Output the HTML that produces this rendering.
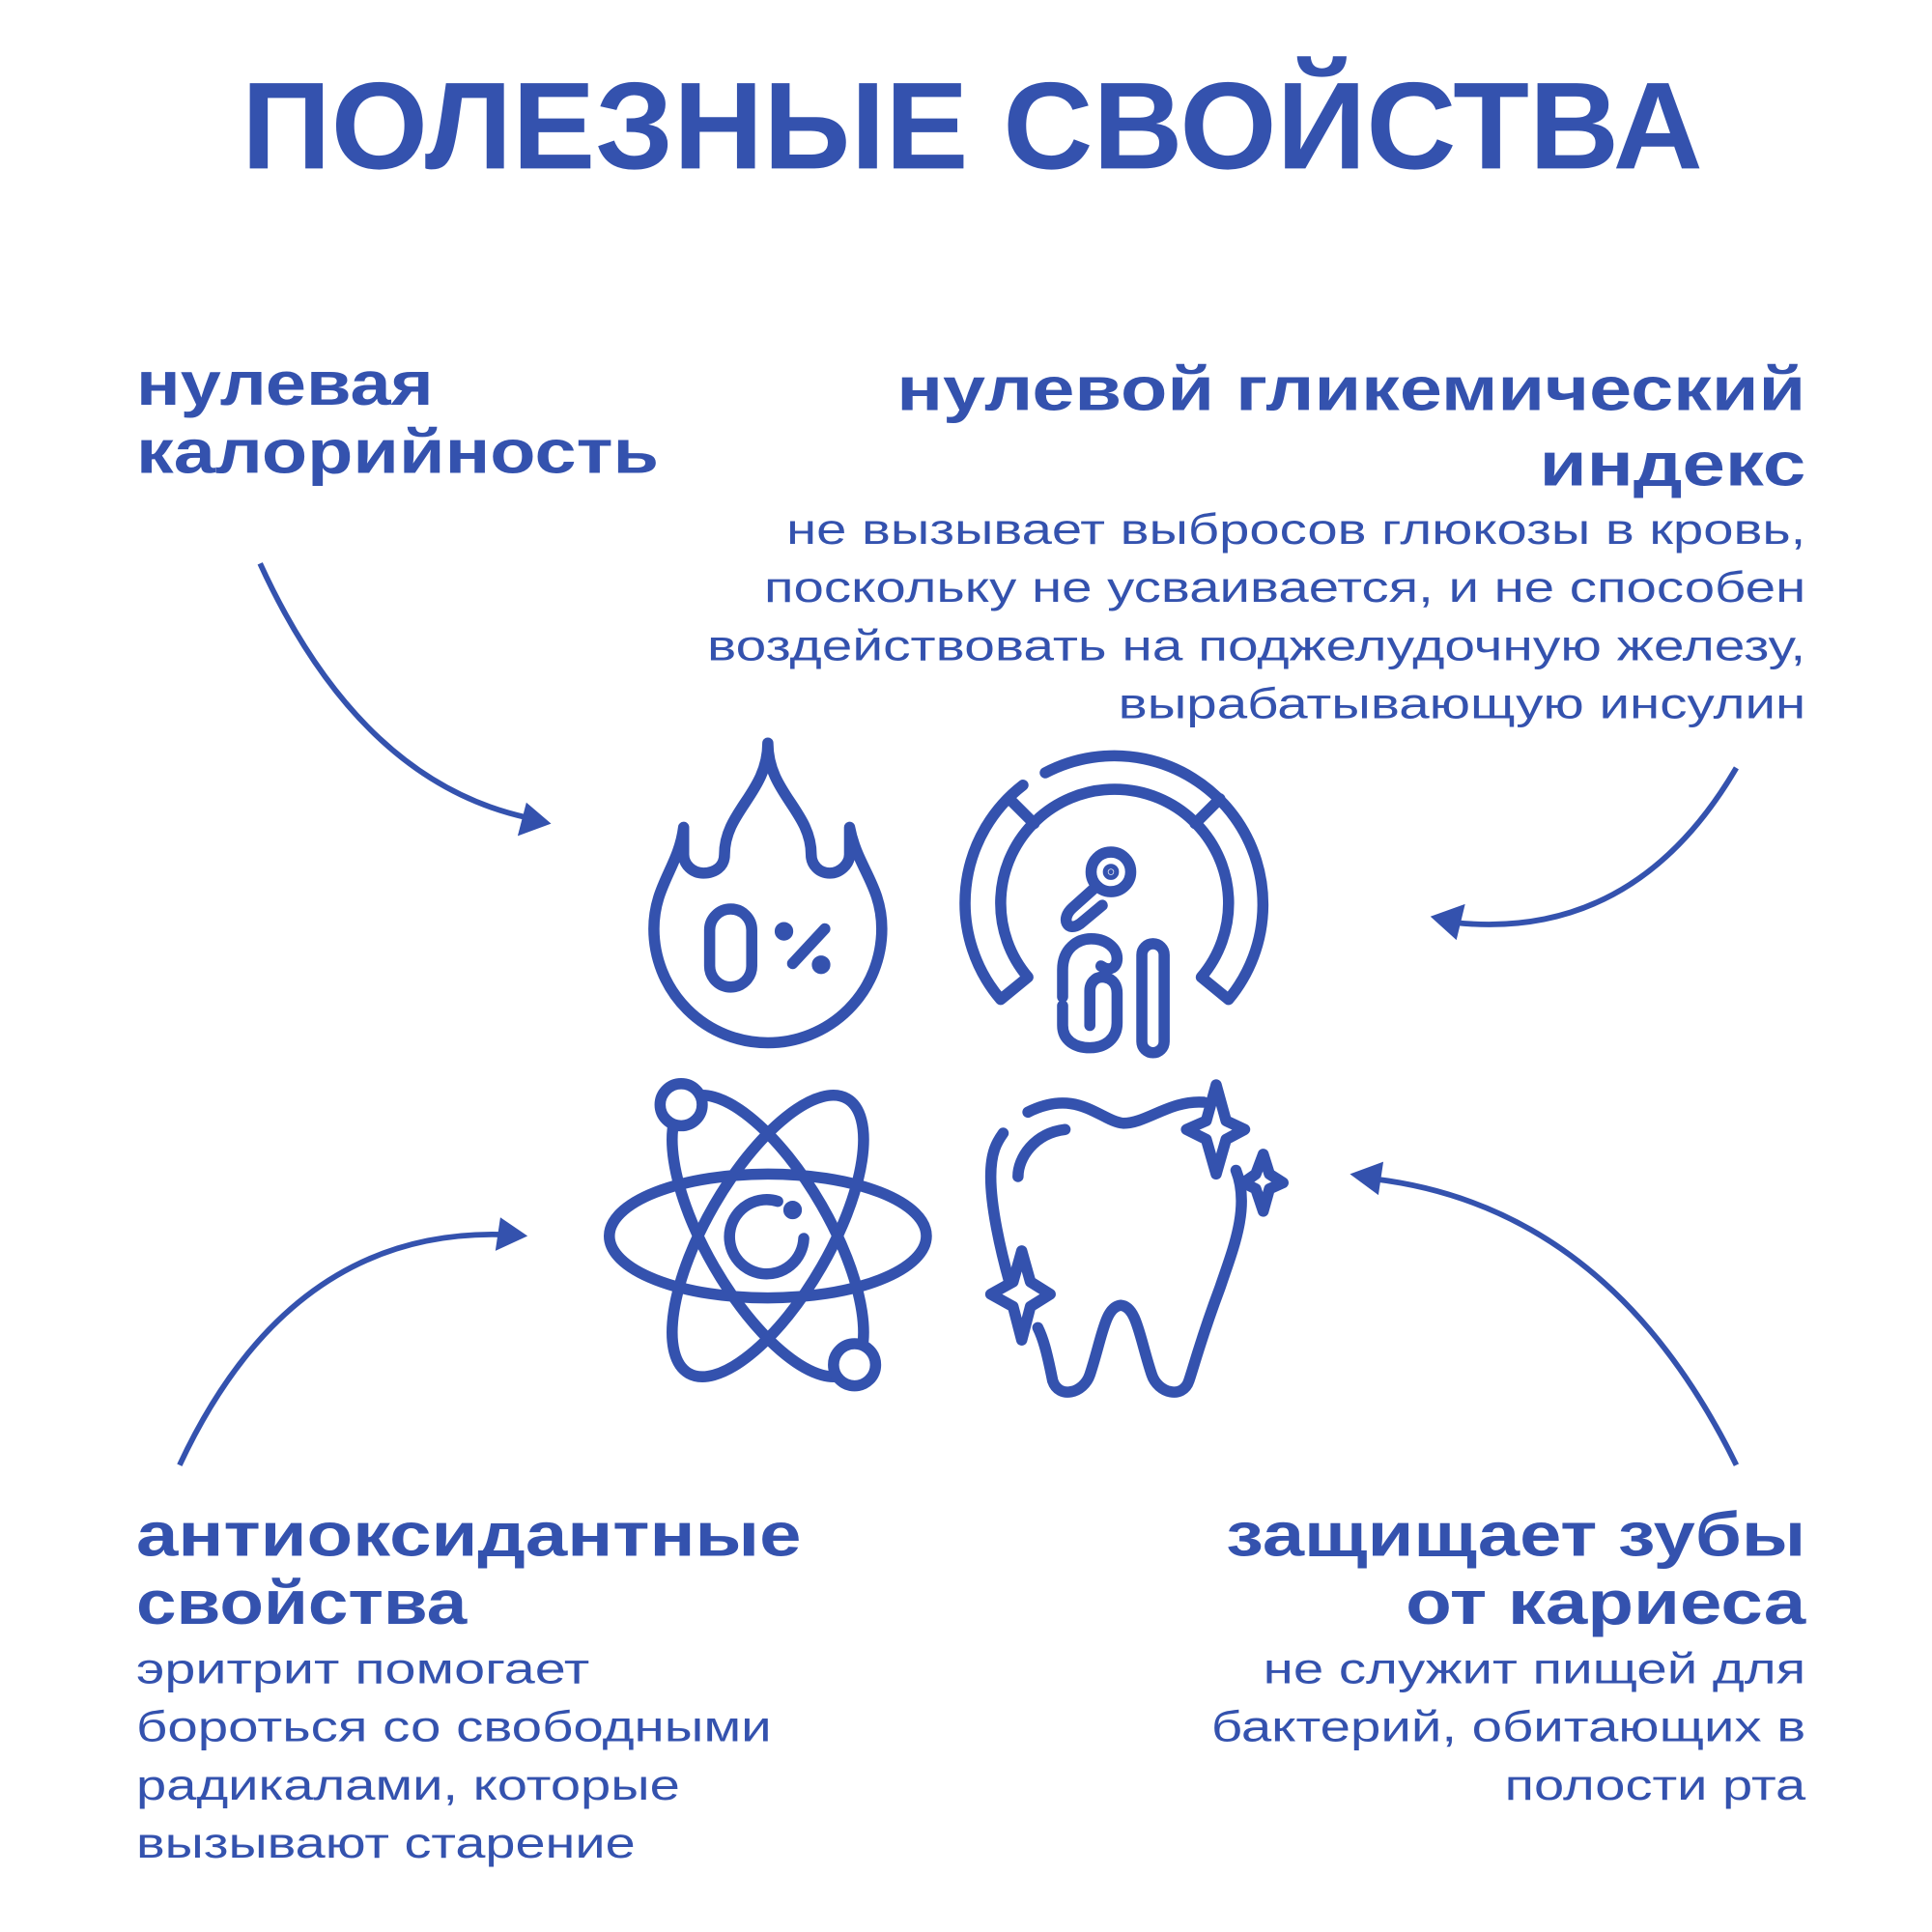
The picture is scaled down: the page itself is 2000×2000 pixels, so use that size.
<!DOCTYPE html>
<html><head><meta charset="utf-8"><style>
html,body{margin:0;padding:0;background:#fff}
svg{display:block}
text{font-family:"Liberation Sans",sans-serif;fill:#3452ae}
.h{font-weight:bold;font-size:50px}
.b{font-size:35px}
</style></head><body>
<svg width="2000" height="2000" viewBox="0 0 1560 1560" xmlns="http://www.w3.org/2000/svg">
<text x="195" y="136" font-size="100" font-weight="bold" textLength="1180" lengthAdjust="spacingAndGlyphs">ПОЛЕЗНЫЕ СВОЙСТВА</text>

<text class="h" x="110" y="327" textLength="240" lengthAdjust="spacingAndGlyphs">нулевая</text>
<text class="h" x="110" y="382" textLength="422" lengthAdjust="spacingAndGlyphs">калорийность</text>

<text class="h" x="724" y="331" textLength="734" lengthAdjust="spacingAndGlyphs">нулевой гликемический</text>
<text class="h" x="1243" y="392" textLength="215" lengthAdjust="spacingAndGlyphs">индекс</text>
<text class="b" x="635" y="439" textLength="823" lengthAdjust="spacingAndGlyphs">не вызывает выбросов глюкозы в кровь,</text>
<text class="b" x="617" y="486" textLength="841" lengthAdjust="spacingAndGlyphs">поскольку не усваивается, и не способен</text>
<text class="b" x="571" y="533" textLength="887" lengthAdjust="spacingAndGlyphs">воздействовать на поджелудочную железу,</text>
<text class="b" x="903" y="580" textLength="555" lengthAdjust="spacingAndGlyphs">вырабатывающую инсулин</text>

<text class="h" x="110" y="1256" textLength="537" lengthAdjust="spacingAndGlyphs">антиоксидантные</text>
<text class="h" x="110" y="1311" textLength="267" lengthAdjust="spacingAndGlyphs">свойства</text>
<text class="b" x="110" y="1359" textLength="366" lengthAdjust="spacingAndGlyphs">эритрит помогает</text>
<text class="b" x="110" y="1406" textLength="513" lengthAdjust="spacingAndGlyphs">бороться со свободными</text>
<text class="b" x="110" y="1453" textLength="439" lengthAdjust="spacingAndGlyphs">радикалами, которые</text>
<text class="b" x="110" y="1500" textLength="403" lengthAdjust="spacingAndGlyphs">вызывают старение</text>

<text class="h" x="990" y="1256" textLength="468" lengthAdjust="spacingAndGlyphs">защищает зубы</text>
<text class="h" x="1135" y="1311" textLength="323" lengthAdjust="spacingAndGlyphs">от кариеса</text>
<text class="b" x="1020" y="1359" textLength="438" lengthAdjust="spacingAndGlyphs">не служит пищей для</text>
<text class="b" x="978" y="1406" textLength="480" lengthAdjust="spacingAndGlyphs">бактерий, обитающих в</text>
<text class="b" x="1215" y="1453" textLength="243" lengthAdjust="spacingAndGlyphs">полости рта</text>

<g fill="none" stroke="#3452ae" stroke-width="4.5">
<path d="M210,455 Q290,630 425,660"/>
<path d="M1402,620 Q1320,760 1175,745"/>
<path d="M145,1183 Q235,990 410,997"/>
<path d="M1402,1183 Q1300,975 1110,952"/>
</g>
<g fill="#3452ae">
<polygon points="445,665 418,675 425,648"/>
<polygon points="1155,740 1183,730 1176,759"/>
<polygon points="426,998 400,1010 404,983"/>
<polygon points="1090,948 1117,938 1113,965"/>
</g>

<g fill="none" stroke="#3452ae" stroke-width="9" stroke-linecap="round" stroke-linejoin="round">
<!-- flame -->
<path d="M620,600 C620,640 585,655 585,690 C585,700 577,705 568,705 C559,705 552,698 552,690 L552,668 C548,700 528,715 528,750 A92,92 0 0 0 712,750 C712,715 692,700 686,668 L686,690 C686,698 678,705 670,705 C661,705 655,698 655,690 C655,655 620,640 620,600 Z"/>
<rect x="573" y="734" width="34" height="63" rx="17"/>
<line x1="640" y1="778" x2="666" y2="750"/>
<circle cx="633" cy="752" r="3" fill="#3452ae"/>
<circle cx="663" cy="779" r="3" fill="#3452ae"/>
<!-- GI gauge -->
<path d="M844,624 A120,120 0 0 1 992,807 L970,789 A92,92 0 1 0 830,789 L808,807 A120,120 0 0 1 826,634"/>
<line x1="835" y1="665" x2="815" y2="645"/>
<line x1="965" y1="665" x2="985" y2="645"/>
<circle cx="897" cy="704" r="16"/>
<circle cx="897" cy="704" r="2" fill="#3452ae"/>
<path d="M885,716 L866,733 C856,742 862,753 872,746 L890,731"/>
<path d="M858,812 L858,828 C858,840 868,846 880,846 C893,846 902,838 902,826 L902,802 C902,793 896,789 890,789 C884,789 880,794 880,800 L880,828"/>
<path d="M858,805 L858,783 C858,766 870,758 881,758 C894,758 902,766 902,774 C902,781 896,785 889,780"/>
<rect x="922" y="762" width="18" height="88" rx="9"/>
<!-- atom -->
<ellipse cx="620" cy="998" rx="128" ry="50"/>
<ellipse cx="620" cy="998" rx="128" ry="50" transform="rotate(60 620 998)"/>
<ellipse cx="620" cy="998" rx="128" ry="50" transform="rotate(-60 620 998)"/>
<circle cx="550" cy="892" r="17" fill="#fff"/>
<circle cx="690" cy="1102" r="17" fill="#fff"/>
<path d="M628,970 A30,30 0 1 0 649,1000"/>
<circle cx="640" cy="977" r="3" fill="#3452ae"/>
<!-- tooth -->
<path d="M830,898 C870,878 888,905 907,907 C926,907 945,888 972,890 M998,945 C1010,975 995,1010 985,1040 C970,1080 965,1100 960,1115 C955,1130 935,1125 930,1110 C920,1080 918,1055 905,1054 C892,1055 890,1080 880,1110 C875,1125 855,1130 850,1115 C845,1090 842,1080 838,1072 M815,1035 C808,1010 800,975 800,950 C800,930 805,922 810,915"/>
<path d="M860,912 C835,915 822,935 822,950"/>
<path d="M982,876 L990,905 L1005,912 L990,920 L982,948 L974,920 L958,912 L974,905 Z"/>
<path d="M1020,932 L1025,948 L1036,955 L1025,960 L1020,978 L1014,960 L1004,955 L1014,948 Z"/>
<path d="M825,1010 L832,1035 L848,1045 L832,1055 L825,1082 L818,1055 L800,1045 L818,1035 Z"/>
</g>
</svg>
</body></html>
